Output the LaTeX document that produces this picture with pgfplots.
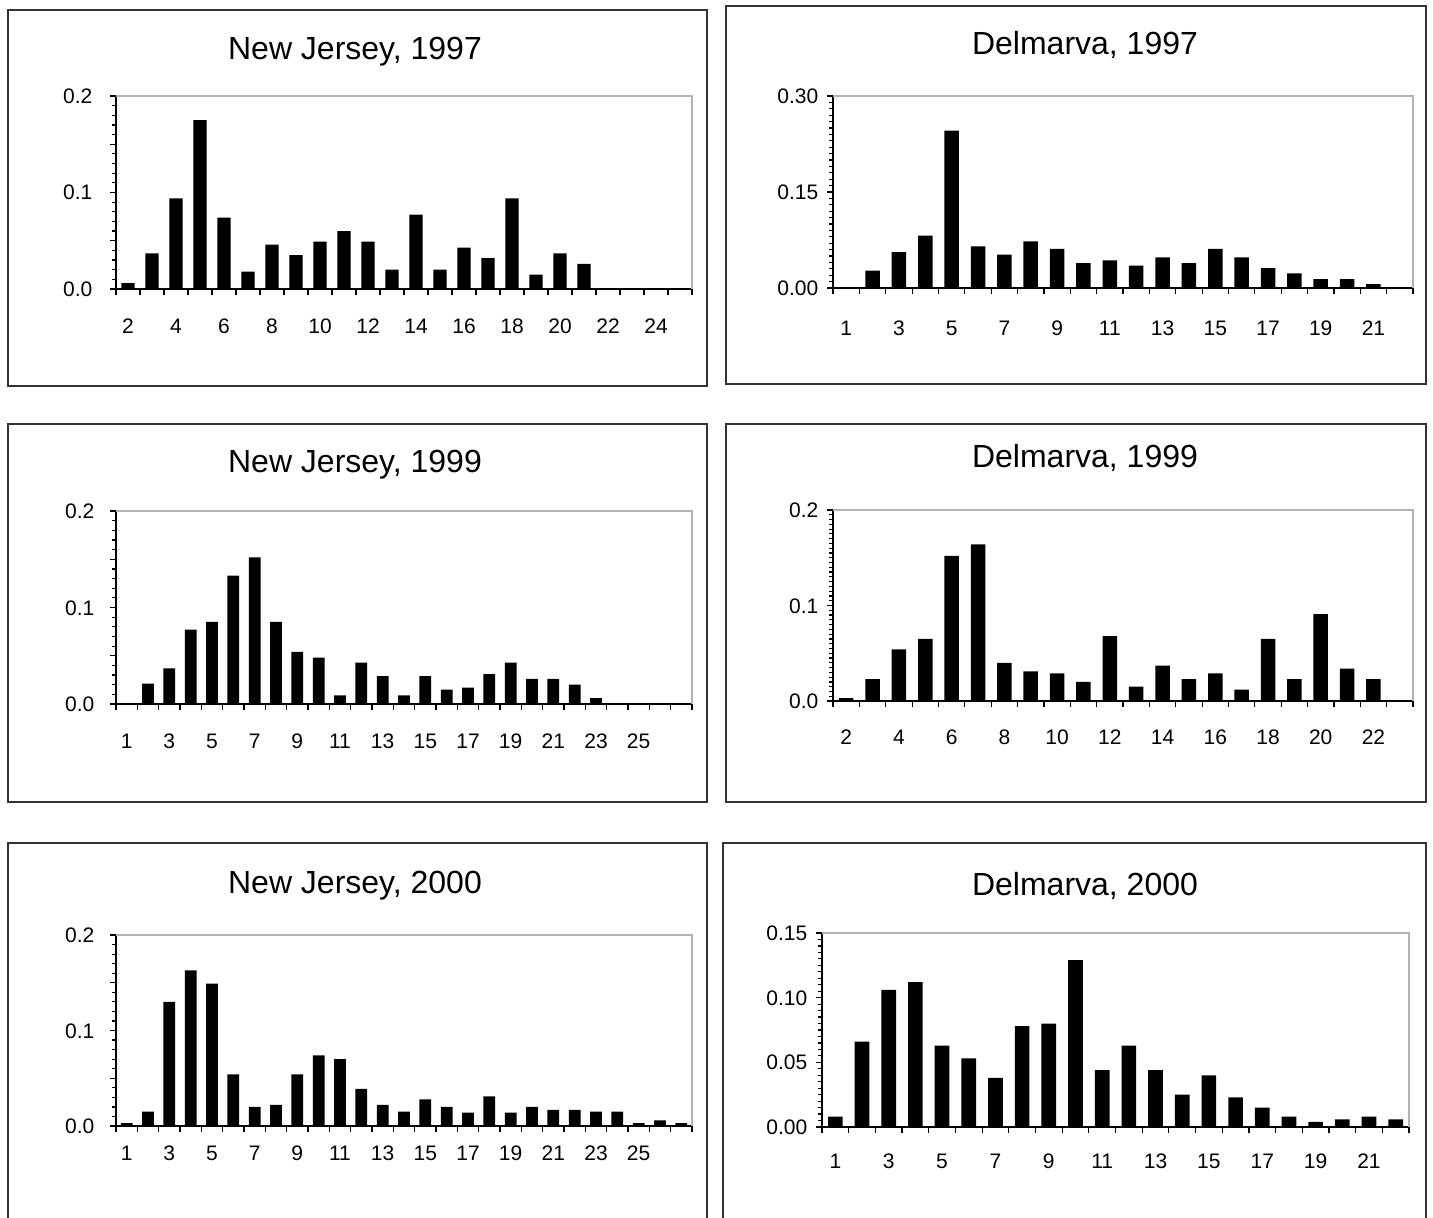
\documentclass[border=0pt]{standalone}
\usepackage{fontspec}
\setmainfont{Liberation Sans}
\usepackage{pgfplots}
\pgfplotsset{compat=1.18}

\pgfplotsset{
  panel/.style={
    scale only axis,
    anchor=south west,
    ybar,
    bar width=0.55,
    axis x line*=bottom,
    axis y line*=left,
    axis line style={black, line width=0.8pt},
    tick align=outside,
    major tick length=2.8pt,
    minor tick length=2pt,
    tick style={black, line width=0.6pt},
    tick label style={font=\fontsize{10.5}{12}\selectfont, text height=7.5pt, text depth=0pt},
    xticklabel=\empty,
    extra x tick style={tick style={draw=none}},
    ymin=0,
    clip=false,
  },
  bars/.style={fill=black, draw=none},
}

\newcommand{\plotframe}{\draw[gray!60, line width=0.8pt] (rel axis cs:0,1) -- (rel axis cs:1,1) -- (rel axis cs:1,0);}

\begin{document}
\begin{tikzpicture}
\useasboundingbox (0,0) rectangle (716.5pt,608.5pt);

% outer frames
\begin{scope}[line width=1.4pt, draw=black!80]
\draw (4pt,415.5pt) rectangle (353.5pt,603.5pt);
\draw (363pt,416.5pt) rectangle (713pt,605.5pt);
\draw (4pt,207.5pt) rectangle (353.5pt,396.5pt);
\draw (363pt,207.5pt) rectangle (713pt,396.5pt);
\draw (4pt,-10pt) rectangle (353.5pt,187pt);
\draw (361.5pt,-10pt) rectangle (713pt,187pt);
\end{scope}

% titles
\begin{scope}[font=\fontsize{16}{19}\selectfont]
\node at (177.5pt,582.5pt) {New Jersey, 1997};
\node at (542.5pt,586pt) {Delmarva, 1997};
\node at (177.5pt,376pt) {New Jersey, 1999};
\node at (542.5pt,379.5pt) {Delmarva, 1999};
\node at (177.5pt,165.5pt) {New Jersey, 2000};
\node at (542.5pt,165.5pt) {Delmarva, 2000};
\end{scope}

% New Jersey, 1997
\begin{axis}[panel, at={(58pt,464pt)}, width=288pt, height=96.5pt,
  xmin=1.5, xmax=25.5, ymax=0.2,
  xtick={1.5,2.5,...,25.5},
  extra x ticks={2,4,...,24},
  extra x tick labels={2,4,6,8,10,12,14,16,18,20,22,24},
  xticklabel style={yshift=-8.5pt},
  ytick={0,0.05,0.1,0.15,0.2},
  yticklabels={0.0,{},0.1,{},0.2},
  minor y tick num=4,
  yticklabel style={xshift=-5.5pt}]
\addplot[bars] coordinates {
  (2,0.006) (3,0.037) (4,0.094) (5,0.175) (6,0.074) (7,0.018) (8,0.046)
  (9,0.035) (10,0.049) (11,0.060) (12,0.049) (13,0.020) (14,0.077)
  (15,0.020) (16,0.043) (17,0.032) (18,0.094) (19,0.015) (20,0.037)
  (21,0.026)
};
\plotframe
\end{axis}

% Delmarva, 1997
\begin{axis}[panel, at={(416.5pt,464.5pt)}, width=290pt, height=96pt,
  xmin=0.5, xmax=22.5, ymax=0.30,
  xtick={0.5,1.5,...,22.5},
  extra x ticks={1,3,...,21},
  extra x tick labels={1,3,5,7,9,11,13,15,17,19,21},
  xticklabel style={yshift=-10pt},
  ytick={0,0.15,0.30},
  yticklabels={0.00,0.15,0.30},
  minor y tick num=14,
  yticklabel style={xshift=-1pt}]
\addplot[bars] coordinates {
  (2,0.027) (3,0.056) (4,0.082) (5,0.246) (6,0.065) (7,0.052) (8,0.073)
  (9,0.061) (10,0.039) (11,0.043) (12,0.035) (13,0.048) (14,0.039)
  (15,0.061) (16,0.048) (17,0.031) (18,0.023) (19,0.014) (20,0.014)
  (21,0.006)
};
\plotframe
\end{axis}

% New Jersey, 1999
\begin{axis}[panel, at={(58pt,256.5pt)}, width=288pt, height=96.5pt,
  xmin=0.5, xmax=27.5, ymax=0.2,
  xtick={0.5,1.5,...,27.5},
  extra x ticks={1,3,...,25},
  extra x tick labels={1,3,5,7,9,11,13,15,17,19,21,23,25},
  xticklabel style={yshift=-8.5pt},
  ytick={0,0.05,0.1,0.15,0.2},
  yticklabels={0.0,{},0.1,{},0.2},
  minor y tick num=4,
  yticklabel style={xshift=-4.5pt}]
\addplot[bars] coordinates {
  (2,0.021) (3,0.037) (4,0.077) (5,0.085) (6,0.133) (7,0.152) (8,0.085)
  (9,0.054) (10,0.048) (11,0.009) (12,0.043) (13,0.029) (14,0.009)
  (15,0.029) (16,0.015) (17,0.017) (18,0.031) (19,0.043) (20,0.026)
  (21,0.026) (22,0.020) (23,0.006)
};
\plotframe
\end{axis}

% Delmarva, 1999
\begin{axis}[panel, at={(416.5pt,258pt)}, width=290pt, height=95.5pt,
  xmin=1.5, xmax=23.5, ymax=0.2,
  xtick={1.5,2.5,...,23.5},
  extra x ticks={2,4,...,22},
  extra x tick labels={2,4,6,8,10,12,14,16,18,20,22},
  xticklabel style={yshift=-8pt},
  ytick={0,0.1,0.2},
  yticklabels={0.0,0.1,0.2},
  minor y tick num=19,
  yticklabel style={xshift=-1pt}]
\addplot[bars] coordinates {
  (2,0.003) (3,0.023) (4,0.054) (5,0.065) (6,0.152) (7,0.164) (8,0.040)
  (9,0.031) (10,0.029) (11,0.020) (12,0.068) (13,0.015) (14,0.037)
  (15,0.023) (16,0.029) (17,0.012) (18,0.065) (19,0.023) (20,0.091)
  (21,0.034) (22,0.023)
};
\plotframe
\end{axis}

% New Jersey, 2000
\begin{axis}[panel, at={(58pt,45.5pt)}, width=288pt, height=95.5pt,
  xmin=0.5, xmax=27.5, ymax=0.2,
  xtick={0.5,1.5,...,27.5},
  extra x ticks={1,3,...,25},
  extra x tick labels={1,3,5,7,9,11,13,15,17,19,21,23,25},
  xticklabel style={yshift=-3.5pt},
  ytick={0,0.05,0.1,0.15,0.2},
  yticklabels={0.0,{},0.1,{},0.2},
  minor y tick num=4,
  yticklabel style={xshift=-4.5pt}]
\addplot[bars] coordinates {
  (1,0.003) (2,0.015) (3,0.130) (4,0.163) (5,0.149) (6,0.054) (7,0.020)
  (8,0.022) (9,0.054) (10,0.074) (11,0.070) (12,0.039) (13,0.022)
  (14,0.015) (15,0.028) (16,0.020) (17,0.014) (18,0.031) (19,0.014)
  (20,0.020) (21,0.017) (22,0.017) (23,0.015) (24,0.015) (25,0.003)
  (26,0.006) (27,0.003)
};
\plotframe
\end{axis}

% Delmarva, 2000
\begin{axis}[panel, at={(411pt,45pt)}, width=293.5pt, height=97pt,
  xmin=0.5, xmax=22.5, ymax=0.15,
  xtick={0.5,1.5,...,22.5},
  extra x ticks={1,3,...,21},
  extra x tick labels={1,3,5,7,9,11,13,15,17,19,21},
  xticklabel style={yshift=-7pt},
  ytick={0,0.05,0.10,0.15},
  yticklabels={0.00,0.05,0.10,0.15},
  minor y tick num=9,
  yticklabel style={xshift=-1pt}]
\addplot[bars] coordinates {
  (1,0.008) (2,0.066) (3,0.106) (4,0.112) (5,0.063) (6,0.053) (7,0.038)
  (8,0.078) (9,0.080) (10,0.129) (11,0.044) (12,0.063) (13,0.044)
  (14,0.025) (15,0.040) (16,0.023) (17,0.015) (18,0.008) (19,0.004)
  (20,0.006) (21,0.008) (22,0.006)
};
\plotframe
\end{axis}
\end{tikzpicture}
\end{document}
